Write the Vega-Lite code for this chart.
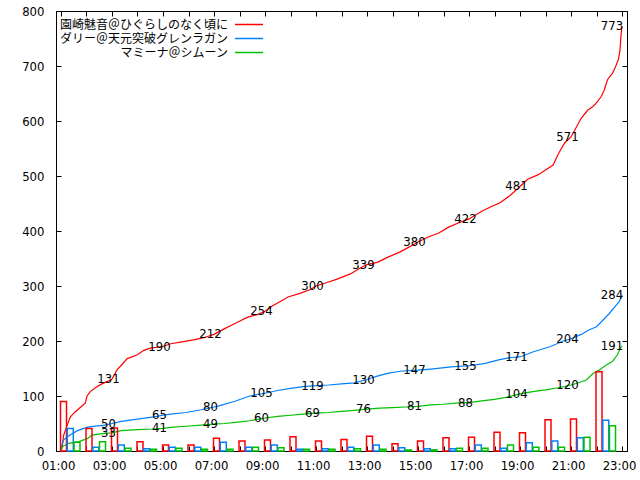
{
  "$schema": "https://vega.github.io/schema/vega-lite/v6.json",
  "width": 571,
  "height": 440,
  "autosize": {"type": "none"},
  "padding": {"left": 56, "top": 11, "right": 13, "bottom": 29},
  "background": "white",
  "config": {
    "view": {"stroke": "black", "strokeWidth": 1},
    "axis": {"domain": false, "grid": false, "title": null, "tickColor": "black", "tickSize": -5, "labelColor": "black", "labelFont": "Liberation Sans Narrow, DejaVu Sans Condensed, Noto Sans", "labelFontSize": 13}
  },
  "datasets": {
    "bars": [
      {"h":1,"s":"園崎魅音＠ひぐらしのなく頃に","v":90},{"h":2,"s":"園崎魅音＠ひぐらしのなく頃に","v":41},{"h":3,"s":"園崎魅音＠ひぐらしのなく頃に","v":42},{"h":4,"s":"園崎魅音＠ひぐらしのなく頃に","v":17},{"h":5,"s":"園崎魅音＠ひぐらしのなく頃に","v":11},{"h":6,"s":"園崎魅音＠ひぐらしのなく頃に","v":11},{"h":7,"s":"園崎魅音＠ひぐらしのなく頃に","v":23},{"h":8,"s":"園崎魅音＠ひぐらしのなく頃に","v":18},{"h":9,"s":"園崎魅音＠ひぐらしのなく頃に","v":20},{"h":10,"s":"園崎魅音＠ひぐらしのなく頃に","v":26},{"h":11,"s":"園崎魅音＠ひぐらしのなく頃に","v":18},{"h":12,"s":"園崎魅音＠ひぐらしのなく頃に","v":21},{"h":13,"s":"園崎魅音＠ひぐらしのなく頃に","v":27},{"h":14,"s":"園崎魅音＠ひぐらしのなく頃に","v":13},{"h":15,"s":"園崎魅音＠ひぐらしのなく頃に","v":18},{"h":16,"s":"園崎魅音＠ひぐらしのなく頃に","v":24},{"h":17,"s":"園崎魅音＠ひぐらしのなく頃に","v":25},{"h":18,"s":"園崎魅音＠ひぐらしのなく頃に","v":34},{"h":19,"s":"園崎魅音＠ひぐらしのなく頃に","v":33},{"h":20,"s":"園崎魅音＠ひぐらしのなく頃に","v":57},{"h":21,"s":"園崎魅音＠ひぐらしのなく頃に","v":58},{"h":22,"s":"園崎魅音＠ひぐらしのなく頃に","v":144},
      {"h":1,"s":"ダリー＠天元突破グレンラガン","v":41},{"h":2,"s":"ダリー＠天元突破グレンラガン","v":7},{"h":3,"s":"ダリー＠天元突破グレンラガン","v":11},{"h":4,"s":"ダリー＠天元突破グレンラガン","v":4},{"h":5,"s":"ダリー＠天元突破グレンラガン","v":7},{"h":6,"s":"ダリー＠天元突破グレンラガン","v":7},{"h":7,"s":"ダリー＠天元突破グレンラガン","v":16},{"h":8,"s":"ダリー＠天元突破グレンラガン","v":7},{"h":9,"s":"ダリー＠天元突破グレンラガン","v":11},{"h":10,"s":"ダリー＠天元突破グレンラガン","v":3},{"h":11,"s":"ダリー＠天元突破グレンラガン","v":4},{"h":12,"s":"ダリー＠天元突破グレンラガン","v":7},{"h":13,"s":"ダリー＠天元突破グレンラガン","v":11},{"h":14,"s":"ダリー＠天元突破グレンラガン","v":6},{"h":15,"s":"ダリー＠天元突破グレンラガン","v":4},{"h":16,"s":"ダリー＠天元突破グレンラガン","v":4},{"h":17,"s":"ダリー＠天元突破グレンラガン","v":11},{"h":18,"s":"ダリー＠天元突破グレンラガン","v":5},{"h":19,"s":"ダリー＠天元突破グレンラガン","v":15},{"h":20,"s":"ダリー＠天元突破グレンラガン","v":18},{"h":21,"s":"ダリー＠天元突破グレンラガン","v":24},{"h":22,"s":"ダリー＠天元突破グレンラガン","v":56},
      {"h":1,"s":"マミーナ＠シムーン","v":16},{"h":2,"s":"マミーナ＠シムーン","v":17},{"h":3,"s":"マミーナ＠シムーン","v":5},{"h":4,"s":"マミーナ＠シムーン","v":3},{"h":5,"s":"マミーナ＠シムーン","v":5},{"h":6,"s":"マミーナ＠シムーン","v":3},{"h":7,"s":"マミーナ＠シムーン","v":3},{"h":8,"s":"マミーナ＠シムーン","v":7},{"h":9,"s":"マミーナ＠シムーン","v":6},{"h":10,"s":"マミーナ＠シムーン","v":3},{"h":11,"s":"マミーナ＠シムーン","v":3},{"h":12,"s":"マミーナ＠シムーン","v":4},{"h":13,"s":"マミーナ＠シムーン","v":3},{"h":14,"s":"マミーナ＠シムーン","v":2},{"h":15,"s":"マミーナ＠シムーン","v":2},{"h":16,"s":"マミーナ＠シムーン","v":5},{"h":17,"s":"マミーナ＠シムーン","v":5},{"h":18,"s":"マミーナ＠シムーン","v":11},{"h":19,"s":"マミーナ＠シムーン","v":7},{"h":20,"s":"マミーナ＠シムーン","v":7},{"h":21,"s":"マミーナ＠シムーン","v":25},{"h":22,"s":"マミーナ＠シムーン","v":46}
    ],
    "curve": [
      {"t":1.0,"s":"園崎魅音＠ひぐらしのなく頃に","v":0},{"t":1.05,"s":"園崎魅音＠ひぐらしのなく頃に","v":8},{"t":1.1,"s":"園崎魅音＠ひぐらしのなく頃に","v":28},{"t":1.25,"s":"園崎魅音＠ひぐらしのなく頃に","v":48},{"t":1.37,"s":"園崎魅音＠ひぐらしのなく頃に","v":62},{"t":1.55,"s":"園崎魅音＠ひぐらしのなく頃に","v":71},{"t":1.8,"s":"園崎魅音＠ひぐらしのなく頃に","v":81},{"t":1.95,"s":"園崎魅音＠ひぐらしのなく頃に","v":87},{"t":2.02,"s":"園崎魅音＠ひぐらしのなく頃に","v":100},{"t":2.15,"s":"園崎魅音＠ひぐらしのなく頃に","v":108},{"t":2.35,"s":"園崎魅音＠ひぐらしのなく頃に","v":115},{"t":2.6,"s":"園崎魅音＠ひぐらしのなく頃に","v":122},{"t":2.85,"s":"園崎魅音＠ひぐらしのなく頃に","v":127},{"t":3.0,"s":"園崎魅音＠ひぐらしのなく頃に","v":131},{"t":3.2,"s":"園崎魅音＠ひぐらしのなく頃に","v":148},{"t":3.35,"s":"園崎魅音＠ひぐらしのなく頃に","v":155},{"t":3.6,"s":"園崎魅音＠ひぐらしのなく頃に","v":168},{"t":4.0,"s":"園崎魅音＠ひぐらしのなく頃に","v":175},{"t":4.25,"s":"園崎魅音＠ひぐらしのなく頃に","v":183},{"t":4.5,"s":"園崎魅音＠ひぐらしのなく頃に","v":187},{"t":5.0,"s":"園崎魅音＠ひぐらしのなく頃に","v":190},{"t":5.3,"s":"園崎魅音＠ひぐらしのなく頃に","v":195},{"t":5.8,"s":"園崎魅音＠ひぐらしのなく頃に","v":199},{"t":6.2,"s":"園崎魅音＠ひぐらしのなく頃に","v":202},{"t":6.6,"s":"園崎魅音＠ひぐらしのなく頃に","v":206},{"t":7.0,"s":"園崎魅音＠ひぐらしのなく頃に","v":212},{"t":7.4,"s":"園崎魅音＠ひぐらしのなく頃に","v":222},{"t":7.7,"s":"園崎魅音＠ひぐらしのなく頃に","v":229},{"t":8.0,"s":"園崎魅音＠ひぐらしのなく頃に","v":236},{"t":8.3,"s":"園崎魅音＠ひぐらしのなく頃に","v":243},{"t":8.7,"s":"園崎魅音＠ひぐらしのなく頃に","v":248},{"t":9.0,"s":"園崎魅音＠ひぐらしのなく頃に","v":254},{"t":9.3,"s":"園崎魅音＠ひぐらしのなく頃に","v":264},{"t":9.6,"s":"園崎魅音＠ひぐらしのなく頃に","v":272},{"t":9.9,"s":"園崎魅音＠ひぐらしのなく頃に","v":280},{"t":10.4,"s":"園崎魅音＠ひぐらしのなく頃に","v":287},{"t":10.8,"s":"園崎魅音＠ひぐらしのなく頃に","v":294},{"t":11.0,"s":"園崎魅音＠ひぐらしのなく頃に","v":300},{"t":11.4,"s":"園崎魅音＠ひぐらしのなく頃に","v":306},{"t":11.8,"s":"園崎魅音＠ひぐらしのなく頃に","v":312},{"t":12.35,"s":"園崎魅音＠ひぐらしのなく頃に","v":322},{"t":12.7,"s":"園崎魅音＠ひぐらしのなく頃に","v":332},{"t":13.0,"s":"園崎魅音＠ひぐらしのなく頃に","v":339},{"t":13.4,"s":"園崎魅音＠ひぐらしのなく頃に","v":343},{"t":13.8,"s":"園崎魅音＠ひぐらしのなく頃に","v":352},{"t":14.3,"s":"園崎魅音＠ひぐらしのなく頃に","v":362},{"t":14.7,"s":"園崎魅音＠ひぐらしのなく頃に","v":372},{"t":15.0,"s":"園崎魅音＠ひぐらしのなく頃に","v":380},{"t":15.4,"s":"園崎魅音＠ひぐらしのなく頃に","v":389},{"t":15.8,"s":"園崎魅音＠ひぐらしのなく頃に","v":396},{"t":16.2,"s":"園崎魅音＠ひぐらしのなく頃に","v":407},{"t":16.6,"s":"園崎魅音＠ひぐらしのなく頃に","v":415},{"t":17.0,"s":"園崎魅音＠ひぐらしのなく頃に","v":422},{"t":17.5,"s":"園崎魅音＠ひぐらしのなく頃に","v":436},{"t":17.9,"s":"園崎魅音＠ひぐらしのなく頃に","v":445},{"t":18.2,"s":"園崎魅音＠ひぐらしのなく頃に","v":451},{"t":18.6,"s":"園崎魅音＠ひぐらしのなく頃に","v":464},{"t":19.0,"s":"園崎魅音＠ひぐらしのなく頃に","v":481},{"t":19.3,"s":"園崎魅音＠ひぐらしのなく頃に","v":494},{"t":19.7,"s":"園崎魅音＠ひぐらしのなく頃に","v":502},{"t":20.0,"s":"園崎魅音＠ひぐらしのなく頃に","v":511},{"t":20.3,"s":"園崎魅音＠ひぐらしのなく頃に","v":520},{"t":20.5,"s":"園崎魅音＠ひぐらしのなく頃に","v":540},{"t":20.75,"s":"園崎魅音＠ひぐらしのなく頃に","v":560},{"t":21.0,"s":"園崎魅音＠ひぐらしのなく頃に","v":571},{"t":21.4,"s":"園崎魅音＠ひぐらしのなく頃に","v":605},{"t":21.66,"s":"園崎魅音＠ひぐらしのなく頃に","v":620},{"t":21.85,"s":"園崎魅音＠ひぐらしのなく頃に","v":626},{"t":21.98,"s":"園崎魅音＠ひぐらしのなく頃に","v":632},{"t":22.18,"s":"園崎魅音＠ひぐらしのなく頃に","v":644},{"t":22.3,"s":"園崎魅音＠ひぐらしのなく頃に","v":656},{"t":22.43,"s":"園崎魅音＠ひぐらしのなく頃に","v":675},{"t":22.63,"s":"園崎魅音＠ひぐらしのなく頃に","v":687},{"t":22.75,"s":"園崎魅音＠ひぐらしのなく頃に","v":699},{"t":22.86,"s":"園崎魅音＠ひぐらしのなく頃に","v":712},{"t":22.92,"s":"園崎魅音＠ひぐらしのなく頃に","v":728},{"t":22.96,"s":"園崎魅音＠ひぐらしのなく頃に","v":755},{"t":23.0,"s":"園崎魅音＠ひぐらしのなく頃に","v":773},
      {"t":1.0,"s":"ダリー＠天元突破グレンラガン","v":0},{"t":1.03,"s":"ダリー＠天元突破グレンラガン","v":10},{"t":1.1,"s":"ダリー＠天元突破グレンラガン","v":20},{"t":1.25,"s":"ダリー＠天元突破グレンラガン","v":26},{"t":1.45,"s":"ダリー＠天元突破グレンラガン","v":32},{"t":1.65,"s":"ダリー＠天元突破グレンラガン","v":37},{"t":1.95,"s":"ダリー＠天元突破グレンラガン","v":42},{"t":2.1,"s":"ダリー＠天元突破グレンラガン","v":44},{"t":2.7,"s":"ダリー＠天元突破グレンラガン","v":47},{"t":3.0,"s":"ダリー＠天元突破グレンラガン","v":50},{"t":3.36,"s":"ダリー＠天元突破グレンラガン","v":54},{"t":4.0,"s":"ダリー＠天元突破グレンラガン","v":58},{"t":4.64,"s":"ダリー＠天元突破グレンラガン","v":62},{"t":5.0,"s":"ダリー＠天元突破グレンラガン","v":65},{"t":5.3,"s":"ダリー＠天元突破グレンラガン","v":67},{"t":5.9,"s":"ダリー＠天元突破グレンラガン","v":70},{"t":6.5,"s":"ダリー＠天元突破グレンラガン","v":75},{"t":7.0,"s":"ダリー＠天元突破グレンラガン","v":80},{"t":7.2,"s":"ダリー＠天元突破グレンラガン","v":82},{"t":7.85,"s":"ダリー＠天元突破グレンラガン","v":91},{"t":8.4,"s":"ダリー＠天元突破グレンラガン","v":100},{"t":9.0,"s":"ダリー＠天元突破グレンラガン","v":105},{"t":9.5,"s":"ダリー＠天元突破グレンラガン","v":110},{"t":10.0,"s":"ダリー＠天元突破グレンラガン","v":114},{"t":10.5,"s":"ダリー＠天元突破グレンラガン","v":117},{"t":11.0,"s":"ダリー＠天元突破グレンラガン","v":119},{"t":11.5,"s":"ダリー＠天元突破グレンラガン","v":120},{"t":12.0,"s":"ダリー＠天元突破グレンラガン","v":122},{"t":12.5,"s":"ダリー＠天元突破グレンラガン","v":124},{"t":13.0,"s":"ダリー＠天元突破グレンラガン","v":130},{"t":13.4,"s":"ダリー＠天元突破グレンラガン","v":136},{"t":13.8,"s":"ダリー＠天元突破グレンラガン","v":141},{"t":14.3,"s":"ダリー＠天元突破グレンラガン","v":145},{"t":15.0,"s":"ダリー＠天元突破グレンラガン","v":147},{"t":15.5,"s":"ダリー＠天元突破グレンラガン","v":149},{"t":16.3,"s":"ダリー＠天元突破グレンラガン","v":153},{"t":17.0,"s":"ダリー＠天元突破グレンラガン","v":155},{"t":17.6,"s":"ダリー＠天元突破グレンラガン","v":159},{"t":18.2,"s":"ダリー＠天元突破グレンラガン","v":166},{"t":18.65,"s":"ダリー＠天元突破グレンラガン","v":170},{"t":19.0,"s":"ダリー＠天元突破グレンラガン","v":171},{"t":19.5,"s":"ダリー＠天元突破グレンラガン","v":180},{"t":20.2,"s":"ダリー＠天元突破グレンラガン","v":190},{"t":20.7,"s":"ダリー＠天元突破グレンラガン","v":200},{"t":21.0,"s":"ダリー＠天元突破グレンラガン","v":204},{"t":21.4,"s":"ダリー＠天元突破グレンラガン","v":212},{"t":21.7,"s":"ダリー＠天元突破グレンラガン","v":220},{"t":22.0,"s":"ダリー＠天元突破グレンラガン","v":226},{"t":22.3,"s":"ダリー＠天元突破グレンラガン","v":240},{"t":22.5,"s":"ダリー＠天元突破グレンラガン","v":250},{"t":22.75,"s":"ダリー＠天元突破グレンラガン","v":264},{"t":22.9,"s":"ダリー＠天元突破グレンラガン","v":272},{"t":23.0,"s":"ダリー＠天元突破グレンラガン","v":284},
      {"t":1.0,"s":"マミーナ＠シムーン","v":0},{"t":1.05,"s":"マミーナ＠シムーン","v":8},{"t":1.3,"s":"マミーナ＠シムーン","v":14},{"t":1.7,"s":"マミーナ＠シムーン","v":17},{"t":2.05,"s":"マミーナ＠シムーン","v":23},{"t":2.2,"s":"マミーナ＠シムーン","v":29},{"t":2.7,"s":"マミーナ＠シムーン","v":32},{"t":3.0,"s":"マミーナ＠シムーン","v":33},{"t":3.36,"s":"マミーナ＠シムーン","v":37},{"t":4.0,"s":"マミーナ＠シムーン","v":39},{"t":4.64,"s":"マミーナ＠シムーン","v":40},{"t":5.0,"s":"マミーナ＠シムーン","v":41},{"t":5.3,"s":"マミーナ＠シムーン","v":43},{"t":5.9,"s":"マミーナ＠シムーン","v":45},{"t":6.5,"s":"マミーナ＠シムーン","v":47},{"t":7.0,"s":"マミーナ＠シムーン","v":49},{"t":7.4,"s":"マミーナ＠シムーン","v":50},{"t":7.85,"s":"マミーナ＠シムーン","v":52},{"t":8.4,"s":"マミーナ＠シムーン","v":55},{"t":9.0,"s":"マミーナ＠シムーン","v":60},{"t":9.5,"s":"マミーナ＠シムーン","v":63},{"t":10.0,"s":"マミーナ＠シムーン","v":65},{"t":10.5,"s":"マミーナ＠シムーン","v":67},{"t":11.0,"s":"マミーナ＠シムーン","v":69},{"t":11.5,"s":"マミーナ＠シムーン","v":70},{"t":12.0,"s":"マミーナ＠シムーン","v":72},{"t":12.5,"s":"マミーナ＠シムーン","v":74},{"t":13.0,"s":"マミーナ＠シムーン","v":76},{"t":13.5,"s":"マミーナ＠シムーン","v":78},{"t":14.0,"s":"マミーナ＠シムーン","v":79},{"t":14.5,"s":"マミーナ＠シムーン","v":80},{"t":15.0,"s":"マミーナ＠シムーン","v":81},{"t":15.5,"s":"マミーナ＠シムーン","v":84},{"t":16.0,"s":"マミーナ＠シムーン","v":85},{"t":16.7,"s":"マミーナ＠シムーン","v":88},{"t":17.0,"s":"マミーナ＠シムーン","v":88},{"t":17.5,"s":"マミーナ＠シムーン","v":91},{"t":18.0,"s":"マミーナ＠シムーン","v":94},{"t":18.5,"s":"マミーナ＠シムーン","v":98},{"t":19.0,"s":"マミーナ＠シムーン","v":104},{"t":19.5,"s":"マミーナ＠シムーン","v":108},{"t":20.0,"s":"マミーナ＠シムーン","v":111},{"t":20.5,"s":"マミーナ＠シムーン","v":115},{"t":21.0,"s":"マミーナ＠シムーン","v":120},{"t":21.3,"s":"マミーナ＠シムーン","v":124},{"t":21.6,"s":"マミーナ＠シムーン","v":129},{"t":21.86,"s":"マミーナ＠シムーン","v":141},{"t":22.1,"s":"マミーナ＠シムーン","v":147},{"t":22.37,"s":"マミーナ＠シムーン","v":156},{"t":22.63,"s":"マミーナ＠シムーン","v":163},{"t":22.82,"s":"マミーナ＠シムーン","v":175},{"t":22.95,"s":"マミーナ＠シムーン","v":188},{"t":23.0,"s":"マミーナ＠シムーン","v":191}
    ],
    "labels": [
      {"t":3,"v":131},{"t":5,"v":190},{"t":7,"v":212},{"t":9,"v":254},{"t":11,"v":300},{"t":13,"v":339},{"t":15,"v":380},{"t":17,"v":422},{"t":19,"v":481},{"t":21,"v":571},{"t":23,"v":773},
      {"t":3,"v":50},{"t":5,"v":65},{"t":7,"v":80},{"t":9,"v":105},{"t":11,"v":119},{"t":13,"v":130},{"t":15,"v":147},{"t":17,"v":155},{"t":19,"v":171},{"t":21,"v":204},{"t":23,"v":284},
      {"t":3,"v":33},{"t":5,"v":41},{"t":7,"v":49},{"t":9,"v":60},{"t":11,"v":69},{"t":13,"v":76},{"t":15,"v":81},{"t":17,"v":88},{"t":19,"v":104},{"t":21,"v":120},{"t":23,"v":191}
    ]
  },
  "resolve": {"axis": {"x": "independent", "y": "independent"}},
  "layer": [
    {
      "data": {"name": "curve"},
      "mark": {"type": "line", "strokeWidth": 1.2},
      "encoding": {
        "x": {"field": "t", "type": "quantitative", "scale": {"domain": [1, 23], "nice": false, "zero": false},
              "axis": {"orient": "bottom", "values": [1,2,3,4,5,6,7,8,9,10,11,12,13,14,15,16,17,18,19,20,21,22,23], "labelExpr": "datum.value % 2 == 1 ? (datum.value < 10 ? '0' : '') + datum.value + ':00' : ''", "labelOverlap": false, "labelPadding": 13, "labelOffset": -3, "labelFlush": false}},
        "y": {"field": "v", "type": "quantitative", "scale": {"domain": [0, 800], "nice": false},
              "axis": {"orient": "left", "values": [0,100,200,300,400,500,600,700,800], "labelPadding": 17}},
        "color": {"field": "s", "type": "nominal", "sort": null,
          "scale": {"domain": ["園崎魅音＠ひぐらしのなく頃に", "ダリー＠天元突破グレンラガン", "マミーナ＠シムーン"], "range": ["#ff0000", "#0080ff", "#00c000"]},
          "legend": {"orient": "none", "legendX": 185, "legendY": 5.5, "direction": "vertical", "title": null, "symbolType": "M-2,0H2", "symbolSize": 196, "symbolStrokeWidth": 1.5, "labelAlign": "right", "labelOffset": -29, "labelFont": "Noto Sans CJK JP", "labelFontSize": 12, "labelColor": "black", "labelLimit": 400, "padding": 0, "rowPadding": 0}}
      }
    },
    {
      "data": {"name": "bars"},
      "transform": [{"filter": "datum.s === '園崎魅音＠ひぐらしのなく頃に'"}],
      "mark": {"type": "bar", "filled": false, "strokeWidth": 1.5, "width": 6, "xOffset": 2.5},
      "encoding": {
        "x": {"field": "h", "type": "quantitative",
              "axis": {"orient": "top", "values": [1,2,3,4,5,6,7,8,9,10,11,12,13,14,15,16,17,18,19,20,21,22,23], "labels": false}},
        "y": {"field": "v", "type": "quantitative", "stack": null,
              "axis": {"orient": "right", "values": [0,100,200,300,400,500,600,700,800], "labels": false}},
        "color": {"field": "s", "type": "nominal"}
      }
    },
    {
      "data": {"name": "bars"},
      "transform": [{"filter": "datum.s === 'ダリー＠天元突破グレンラガン'"}],
      "mark": {"type": "bar", "filled": false, "strokeWidth": 1.5, "width": 6, "xOffset": 9.3},
      "encoding": {
        "x": {"field": "h", "type": "quantitative", "axis": null},
        "y": {"field": "v", "type": "quantitative", "stack": null, "axis": null},
        "color": {"field": "s", "type": "nominal"}
      }
    },
    {
      "data": {"name": "bars"},
      "transform": [{"filter": "datum.s === 'マミーナ＠シムーン'"}],
      "mark": {"type": "bar", "filled": false, "strokeWidth": 1.5, "width": 6, "xOffset": 16},
      "encoding": {
        "x": {"field": "h", "type": "quantitative", "axis": null},
        "y": {"field": "v", "type": "quantitative", "stack": null, "axis": null},
        "color": {"field": "s", "type": "nominal"}
      }
    },
    {
      "data": {"name": "labels"},
      "transform": [{"filter": "datum.t < 23"}],
      "mark": {"type": "text", "dx": -3.5, "baseline": "middle", "align": "center", "font": "Liberation Sans Narrow, DejaVu Sans Condensed, Noto Sans", "fontSize": 13, "color": "black"},
      "encoding": {
        "x": {"field": "t", "type": "quantitative", "axis": null},
        "y": {"field": "v", "type": "quantitative", "axis": null},
        "text": {"field": "v", "type": "quantitative"}
      }
    },
    {
      "data": {"name": "labels"},
      "transform": [{"filter": "datum.t == 23"}],
      "mark": {"type": "text", "dx": -10, "baseline": "middle", "align": "center", "font": "Liberation Sans Narrow, DejaVu Sans Condensed, Noto Sans", "fontSize": 13, "color": "black"},
      "encoding": {
        "x": {"field": "t", "type": "quantitative", "axis": null},
        "y": {"field": "v", "type": "quantitative", "axis": null},
        "text": {"field": "v", "type": "quantitative"}
      }
    }
  ]
}
